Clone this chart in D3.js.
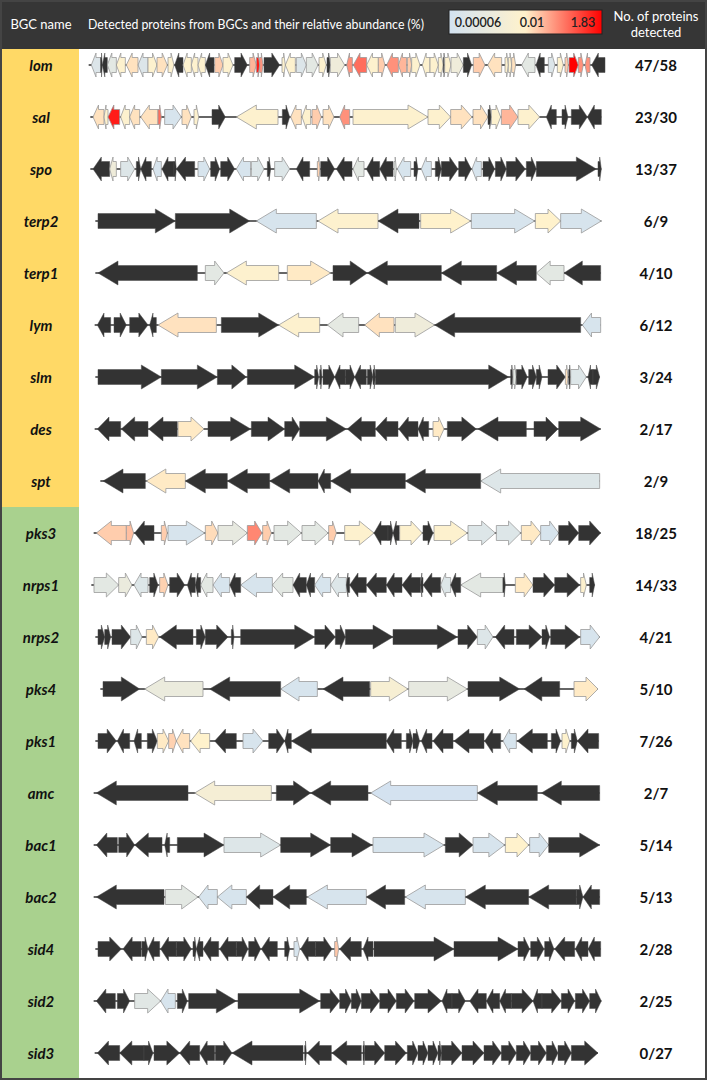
<!DOCTYPE html>
<html><head><meta charset="utf-8">
<script src="https://cdn.jsdelivr.net/npm/d3@7"></script>
<style>body{margin:0;background:#fff}svg{display:block}</style>
</head><body><svg id="c" width="709" height="1081"></svg>
<script>
// ---- data ----
const bgcNames = ["lom","sal","spo","terp2","terp1","lym","slm","des","spt","pks3","nrps1","nrps2","pks4","pks1","amc","bac1","bac2","sid4","sid2","sid3"];
const bgcGroup = ["A","A","A","A","A","A","A","A","A","B","B","B","B","B","B","B","B","B","B","B"];
const detectedCounts = [47,23,13,6,4,6,3,2,2,18,14,4,5,7,2,5,5,2,2,0];
const totalCounts = [58,30,37,9,10,12,24,17,9,25,33,21,10,26,7,14,13,28,25,27];
const legendTicks = [0.00006, 0.01, 1.83];
const legendLabels = ["0.00006","0.01","1.83"];
// gene: [start, end, strand, relative abundance (%) or null = not detected]
const lomGenes = [[10,38,-1,0.00018],[38,43,1,null],[43,58,-1,null],[58,85,-1,0.0004],[85,112,-1,0.008],[115,150,-1,0.014],[150,180,-1,0.00018],[180,207,1,0.008],[207,238,1,0.014],[240,258,1,0.008],[260,285,-1,null],[285,310,-1,0.008],[310,330,-1,0.008],[330,352,-1,0.008],[352,378,-1,null],[380,405,1,0.022],[405,435,1,0.008],[440,478,1,null],[485,505,1,0.036],[505,515,1,1.0],[515,525,1,0.08],[528,575,1,null],[582,592,1,0.008],[592,622,-1,0.008],[625,655,1,0.00018],[655,690,1,0.0004],[693,715,1,0.008],[717,727,1,null],[727,770,1,0.0015],[776,793,-1,0.08],[796,836,-1,0.17],[836,871,-1,0.008],[871,891,1,0.022],[896,931,-1,0.08],[931,956,-1,0.036],[958,971,1,0.022],[971,996,1,0.008],[1003,1026,-1,0.008],[1026,1051,1,0.008],[1051,1066,1,0.008],[1066,1070,1,null],[1070,1089,1,0.008],[1089,1126,1,0.0015],[1126,1151,1,null],[1156,1191,1,0.022],[1199,1241,-1,0.014],[1251,1261,1,0.008],[1261,1271,1,0.008],[1271,1283,1,0.014],[1301,1341,-1,0.0004],[1344,1369,-1,null],[1381,1401,1,0.00018],[1408,1426,1,0.008],[1431,1441,1,0.022],[1443,1471,1,1.83],[1471,1486,1,0.08],[1491,1506,-1,0.08],[1511,1551,-1,null]];
const salGenes = [[15,48,-1,0.014],[48,60,-1,0.008],[60,95,-1,1.0],[98,125,-1,0.008],[125,155,-1,0.014],[158,210,-1,0.014],[210,220,1,0.17],[230,280,1,0.0001],[282,310,1,0.014],[318,332,1,0.008],[372,412,1,null],[445,570,-1,0.008],[583,605,1,null],[608,640,-1,0.014],[642,668,-1,0.008],[672,700,1,0.022],[705,738,1,0.014],[755,785,-1,0.08],[795,1020,1,0.008],[1020,1088,1,0.008],[1088,1152,1,0.014],[1155,1200,1,0.014],[1200,1210,1,null],[1210,1238,1,0.008],[1240,1290,1,0.036],[1290,1355,1,0.008],[1375,1405,-1,null],[1422,1440,1,null],[1450,1498,1,null],[1498,1540,-1,null]];
const spoGenes = [[15,65,-1,null],[65,85,-1,0.0015],[98,140,1,0.0002],[145,158,1,null],[158,190,-1,null],[195,220,-1,0.0001],[222,258,-1,null],[258,265,1,null],[265,320,-1,null],[330,365,1,0.0001],[368,395,1,null],[398,440,1,null],[445,488,-1,0.0001],[490,528,1,0.0002],[538,548,1,null],[560,605,1,0.0002],[625,665,-1,null],[688,696,1,0.02],[698,740,1,null],[745,792,-1,null],[795,828,-1,0.0004],[835,875,-1,null],[875,915,-1,null],[918,925,1,0.0004],[928,968,-1,0.0001],[978,990,1,null],[1000,1030,-1,0.0001],[1042,1060,1,null],[1060,1110,1,null],[1112,1150,1,null],[1152,1180,-1,0.0001],[1185,1220,1,null],[1222,1255,1,null],[1255,1312,1,null],[1315,1345,1,null],[1345,1525,1,null],[1530,1540,1,null]];
const terp2Genes = [[30,262,1,null],[262,485,1,null],[505,685,-1,0.0001],[690,870,-1,0.008],[870,993,-1,null],[998,1148,1,0.01],[1150,1340,1,0.0001],[1342,1418,1,0.01],[1418,1540,1,0.0001]];
const terp1Genes = [[30,328,-1,null],[352,408,1,0.0004],[415,572,-1,0.008],[598,728,1,0.012],[735,838,1,null],[838,1060,-1,null],[1060,1226,-1,null],[1226,1345,-1,null],[1345,1428,-1,0.0004],[1428,1538,-1,null]];
const lymGenes = [[28,68,-1,null],[78,115,1,null],[125,180,1,null],[185,205,-1,null],[210,385,-1,0.014],[400,572,1,null],[572,695,-1,0.008],[718,812,-1,0.0005],[830,918,-1,0.014],[922,1040,1,0.0015],[1040,1478,-1,null],[1483,1538,-1,0.0001]];
const slmGenes = [[30,220,1,null],[220,388,1,null],[388,475,1,null],[478,680,1,null],[680,692,1,null],[695,702,1,null],[705,740,1,null],[740,772,-1,null],[772,800,1,null],[800,835,-1,null],[838,855,1,null],[855,862,1,null],[862,1262,1,null],[1268,1275,1,null],[1275,1285,1,0.0004],[1285,1318,1,null],[1322,1345,1,null],[1345,1362,1,null],[1380,1432,1,null],[1432,1440,1,0.014],[1442,1448,1,null],[1448,1495,1,0.0002],[1500,1515,-1,null],[1515,1535,1,null]];
const desGenes = [[28,98,-1,null],[100,180,-1,null],[182,268,-1,null],[270,348,1,0.012],[360,488,1,null],[490,590,1,null],[590,635,1,null],[635,775,1,null],[778,862,-1,null],[862,930,-1,null],[932,990,-1,null],[990,1022,-1,null],[1035,1068,1,0.012],[1078,1165,1,null],[1170,1315,-1,null],[1338,1410,1,null],[1412,1538,1,null]];
const sptGenes = [[45,172,-1,null],[175,292,-1,0.012],[292,418,-1,null],[418,545,-1,null],[545,690,-1,null],[690,728,-1,null],[728,952,-1,null],[952,1178,-1,null],[1178,1535,-1,0.0002]];
const pks3Genes = [[25,115,-1,0.022],[115,137,1,0.03],[140,198,-1,null],[220,238,1,0.022],[240,350,1,0.0001],[352,390,1,0.016],[390,478,1,0.0006],[478,522,1,0.1],[524,550,1,0.022],[558,640,1,0.0004],[642,720,1,0.0004],[722,745,1,0.022],[770,858,1,0.008],[858,900,-1,null],[900,915,1,null],[915,935,-1,null],[935,1003,1,0.008],[1005,1035,1,null],[1038,1138,1,0.008],[1140,1222,1,0.0002],[1225,1298,1,0.0002],[1300,1358,1,0.012],[1358,1412,1,0.0001],[1412,1472,1,null],[1472,1538,1,null]];
const nrps1Genes = [[18,92,1,0.0004],[92,132,1,0.001],[138,180,-1,0.0002],[185,210,1,null],[215,240,1,0.02],[245,290,1,null],[298,322,-1,null],[322,338,-1,null],[338,375,-1,0.0004],[375,425,-1,0.0001],[425,458,-1,null],[458,553,-1,0.0001],[553,615,-1,0.0004],[615,655,-1,null],[655,680,-1,null],[680,728,-1,0.0001],[728,775,-1,0.0002],[775,785,-1,null],[785,835,-1,null],[835,895,-1,null],[895,942,-1,null],[942,998,-1,null],[998,1005,-1,null],[1005,1058,-1,null],[1058,1088,-1,0.0002],[1088,1118,-1,null],[1118,1245,-1,0.0004],[1245,1252,1,null],[1282,1335,1,0.012],[1335,1400,1,null],[1400,1475,1,null],[1478,1495,1,0.008],[1505,1520,1,null]];
const nrps2Genes = [[30,50,1,null],[50,68,1,null],[72,128,1,null],[128,162,1,0.0002],[175,212,1,0.012],[215,315,-1,null],[325,352,1,null],[352,420,1,null],[430,438,1,null],[458,680,1,null],[680,742,1,null],[742,772,1,null],[772,915,1,null],[915,1108,1,null],[1110,1168,1,null],[1168,1215,1,0.0002],[1222,1278,-1,null],[1285,1362,1,null],[1362,1385,1,null],[1388,1475,1,null],[1478,1535,1,0.0001]];
const pks4Genes = [[45,155,1,null],[170,345,-1,0.001],[365,578,-1,null],[578,688,-1,0.0001],[705,845,-1,null],[848,960,1,0.004],[962,1138,1,0.0006],[1140,1295,1,null],[1308,1415,-1,null],[1458,1530,1,0.012]];
const pks1Genes = [[30,85,1,null],[88,125,-1,null],[138,160,-1,null],[178,208,1,null],[208,242,1,0.012],[242,265,1,0.02],[265,305,-1,0.014],[308,365,-1,0.01],[380,445,-1,null],[465,525,1,0.0001],[542,590,1,null],[590,610,-1,null],[610,895,-1,null],[895,940,-1,null],[955,975,1,null],[975,995,1,null],[1000,1032,-1,null],[1035,1095,-1,null],[1098,1188,-1,null],[1190,1238,-1,null],[1245,1285,-1,0.0001],[1288,1378,-1,null],[1390,1418,1,null],[1422,1445,1,0.009],[1450,1468,1,null],[1468,1532,-1,null]];
const amcGenes = [[25,300,-1,null],[320,550,-1,0.003],[565,668,1,null],[668,840,-1,null],[848,1168,-1,0.00007],[1168,1348,-1,null],[1360,1535,-1,null]];
const bac1Genes = [[25,88,-1,null],[92,140,1,null],[140,222,-1,null],[230,245,-1,null],[268,408,1,null],[408,578,1,0.0002],[578,728,1,null],[728,852,1,null],[855,1068,1,0.0001],[1072,1155,1,null],[1155,1250,1,0.0001],[1252,1322,1,0.01],[1325,1382,1,0.0001],[1382,1535,1,null]];
const bac2Genes = [[25,228,-1,null],[232,330,1,0.0004],[332,388,-1,0.0001],[388,475,-1,0.0001],[475,555,-1,null],[555,655,-1,null],[658,835,-1,0.0001],[835,950,-1,null],[952,1132,-1,0.0001],[1132,1322,-1,null],[1322,1465,-1,null],[1465,1485,1,null],[1485,1535,-1,null]];
const sid4Genes = [[30,100,1,null],[105,160,-1,null],[162,180,1,null],[180,215,-1,null],[218,265,-1,null],[265,310,1,null],[315,325,1,null],[325,345,-1,null],[345,392,-1,null],[395,445,-1,null],[445,480,1,null],[482,518,1,null],[520,568,-1,null],[590,605,1,null],[618,635,1,0.0001],[638,683,-1,null],[683,732,1,null],[740,752,1,0.025],[755,820,-1,null],[825,855,-1,null],[858,1098,1,null],[1098,1290,1,null],[1290,1325,1,null],[1328,1368,1,null],[1370,1398,1,null],[1400,1460,-1,null],[1462,1500,-1,null],[1500,1538,-1,null]];
const sid2Genes = [[25,82,-1,null],[88,125,1,null],[140,218,1,0.0003],[218,262,-1,0.0001],[268,298,1,null],[302,445,1,null],[450,695,1,null],[698,755,1,null],[755,790,1,null],[790,820,1,null],[820,875,1,null],[875,925,1,null],[925,978,1,null],[980,1060,1,null],[1062,1092,-1,null],[1092,1132,1,null],[1145,1195,-1,null],[1195,1235,-1,null],[1235,1270,-1,null],[1270,1335,1,null],[1335,1362,-1,null],[1362,1420,1,null],[1420,1460,1,null],[1462,1505,1,null],[1505,1540,1,null]];
const sid3Genes = [[28,95,-1,null],[95,168,-1,null],[168,195,1,null],[198,275,1,null],[275,335,-1,null],[335,380,-1,null],[382,432,1,null],[432,645,-1,null],[650,655,1,null],[658,730,-1,null],[732,820,-1,null],[825,830,1,null],[830,890,1,null],[890,955,1,null],[958,990,1,null],[990,1020,1,null],[1020,1050,1,null],[1050,1060,1,null],[1060,1122,1,null],[1122,1188,1,null],[1188,1240,1,null],[1240,1285,1,null],[1285,1328,1,null],[1328,1375,1,null],[1375,1410,1,null],[1410,1450,1,null],[1450,1530,1,null]];
const clusterGenes = [lomGenes,salGenes,spoGenes,terp2Genes,terp1Genes,lymGenes,slmGenes,desGenes,sptGenes,pks3Genes,nrps1Genes,nrps2Genes,pks4Genes,pks1Genes,amcGenes,bac1Genes,bac2Genes,sid4Genes,sid2Genes,sid3Genes];

// ---- drawing ----
const W = 706, H = 1079, headerH = 49;
const svg = d3.select("#c");
const font = "Lato, 'Open Sans', sans-serif";

const x = d3.scaleLinear().domain([0, 1575]).range([88, 613]);
const y = d3.scaleBand().domain(bgcNames).range([39, 1079]);
const groupColor = d3.scaleOrdinal().domain(["A","B"]).range(["#FFD966","#A9D18E"]);
const color = d3.scaleLog().domain(legendTicks).range(["#d3e2f1","#fff2cc","#ff0000"]).clamp(true);

svg.append("rect").attr("width", 709).attr("height", 1081).attr("fill", "#fff");

// left group panel
bgcNames.forEach((n, i) => {
  const top = Math.max(headerH, y(n));
  svg.append("rect").attr("x", 1).attr("y", top).attr("width", 78)
    .attr("height", y(n) + y.bandwidth() - top + 0.5).attr("fill", groupColor(bgcGroup[i]));
});

// header
svg.append("rect").attr("x", 0).attr("y", 0).attr("width", W).attr("height", headerH).attr("fill", "#363636");
svg.append("text").attr("x", 41).attr("y", 24).attr("text-anchor", "middle").attr("dominant-baseline", "central")
  .attr("fill", "#fff").style("font", `13px ${font}`).text("BGC name");
svg.append("text").attr("x", 88).attr("y", 24).attr("dominant-baseline", "central")
  .attr("fill", "#fff").style("font", `13px ${font}`).attr("textLength", 336).attr("lengthAdjust", "spacingAndGlyphs")
  .text("Detected proteins from BGCs and their relative abundance (%)");
svg.append("text").attr("x", 656).attr("y", 16).attr("text-anchor", "middle").attr("dominant-baseline", "central")
  .attr("fill", "#fff").style("font", `13px ${font}`).text("No. of proteins");
svg.append("text").attr("x", 656).attr("y", 32).attr("text-anchor", "middle").attr("dominant-baseline", "central")
  .attr("fill", "#fff").style("font", `13px ${font}`).text("detected");

// legend
const lx = d3.scaleLog().domain([legendTicks[0], legendTicks[2]]).range([449, 602]);
const grad = svg.append("defs").append("linearGradient").attr("id", "lg");
d3.range(0, 1.0001, 0.05).forEach(t => {
  const v = lx.invert(449 + t * 153);
  grad.append("stop").attr("offset", t).attr("stop-color", color(v));
});
svg.append("rect").attr("x", 449).attr("y", 10).attr("width", 153).attr("height", 24)
  .attr("fill", "url(#lg)").attr("stroke", "#222").attr("stroke-width", 1);
const labX = [478, 532, 583];
legendLabels.forEach((t, i) => {
  svg.append("text").attr("x", labX[i]).attr("y", 22).attr("text-anchor", "middle").attr("dominant-baseline", "central")
    .attr("fill", "#222").style("font", `600 12.5px ${font}`).text(t);
});

// rows
const bh = 7.5, hh = 12;
function arrowPath(g, yc) {
  let x0 = x(g[0]), x1 = x(g[1]);
  const w = x1 - x0, head = Math.min(20, w * 0.5);
  if (g[2] >= 0) {
    return `M${x0},${yc-bh}L${x1-head},${yc-bh}L${x1-head},${yc-hh}L${x1},${yc}L${x1-head},${yc+hh}L${x1-head},${yc+bh}L${x0},${yc+bh}Z`;
  } else {
    return `M${x1},${yc-bh}L${x0+head},${yc-bh}L${x0+head},${yc-hh}L${x0},${yc}L${x0+head},${yc+hh}L${x0+head},${yc+bh}L${x1},${yc+bh}Z`;
  }
}
bgcNames.forEach((n, i) => {
  const yc = y(n) + y.bandwidth() / 2;
  const genes = clusterGenes[i];
  const g = svg.append("g");
  g.append("line").attr("x1", x(d3.min(genes, d => d[0]) - 8)).attr("x2", x(d3.max(genes, d => d[1])))
    .attr("y1", yc).attr("y2", yc).attr("stroke", "#333").attr("stroke-width", 1.5);
  g.selectAll("path").data(genes).join("path")
    .attr("d", d => arrowPath(d, yc))
    .attr("fill", d => d[3] == null ? "#333333" : color(d[3]))
    .attr("stroke", d => d[3] == null ? "#4a4a4a" : "#9a9a9a")
    .attr("stroke-width", d => d[3] == null ? 0.5 : 0.8)
    .attr("stroke-linejoin", "miter");
  svg.append("text").attr("x", 41).attr("y", yc).attr("text-anchor", "middle").attr("dominant-baseline", "central")
    .attr("fill", "#111").style("font", `italic bold 15px ${font}`).text(n);
  svg.append("text").attr("x", 656).attr("y", yc).attr("text-anchor", "middle").attr("dominant-baseline", "central")
    .attr("fill", "#111").style("font", `bold 15px ${font}`).text(`${detectedCounts[i]}/${totalCounts[i]}`);
});

// frame
svg.append("rect").attr("x", 1).attr("y", 1).attr("width", W - 1).attr("height", H - 1)
  .attr("fill", "none").attr("stroke", "#444").attr("stroke-width", 2);
</script></body></html>
